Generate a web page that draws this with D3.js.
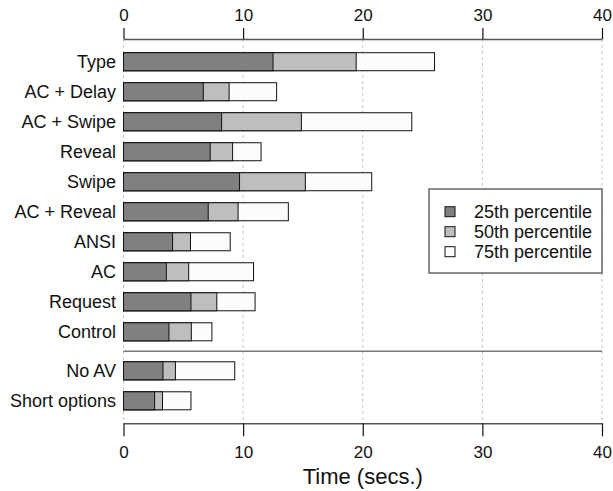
<!DOCTYPE html>
<html>
<head>
<meta charset="utf-8">
<script src="https://cdn.jsdelivr.net/npm/d3@7"></script>
<style>
  html, body { margin: 0; padding: 0; background: #fff; }
  svg { display: block; font-family: "Liberation Sans", Arial, Helvetica, sans-serif; }
</style>
</head>
<body>
<svg id="chart" width="613" height="491"></svg>
<script>
// ---- data ----
const mainCategories = ["Type", "AC + Delay", "AC + Swipe", "Reveal", "Swipe", "AC + Reveal", "ANSI", "AC", "Request", "Control"];
const extraCategories = ["No AV", "Short options"];
const categories = mainCategories.concat(extraCategories);
const p25 = [12.5, 6.67, 8.2, 7.25, 9.7, 7.08, 4.1, 3.58, 5.64, 3.8, 3.3, 2.6];
const p50 = [19.45, 8.83, 14.87, 9.12, 15.2, 9.58, 5.6, 5.45, 7.8, 5.67, 4.34, 3.26];
const p75 = [26.0, 12.8, 24.1, 11.5, 20.75, 13.78, 8.92, 10.87, 11.0, 7.39, 9.3, 5.64];
const seriesNames = ["25th percentile", "50th percentile", "75th percentile"];
const xTicks = [0, 10, 20, 30, 40];
const xTitle = "Time (secs.)";

// ---- layout ----
const svg = d3.select("#chart");
const colors = ["#808080", "#bebebe", "#fcfcfc"];
const groupGap = 0.3;
// slot position for each category (extra group separated by a gap)
const slot = categories.map((c, i) => i < mainCategories.length ? i : i + groupGap);
const sepPos = mainCategories.length - 1 + (1 + groupGap) / 2;

const x = d3.scaleLinear().domain([0, 40]).range([123.5, 602]);
const y = d3.scaleLinear().domain([-0.757, 12.05]).range([39, 423.3]);
const barH = y(0.6) - y(0);

// grid lines
svg.append("g").selectAll("line").data(xTicks).join("line")
  .attr("x1", d => x(d)).attr("x2", d => x(d))
  .attr("y1", y.range()[0]).attr("y2", y.range()[1])
  .attr("stroke", "#c4c4c4").attr("stroke-width", 1)
  .attr("stroke-dasharray", "3,3");

// separator
svg.append("line")
  .attr("x1", x(0)).attr("x2", x(40))
  .attr("y1", y(sepPos)).attr("y2", y(sepPos))
  .attr("stroke", "#7a7a7a").attr("stroke-width", 1.5);

// bars (drawn back to front: 75th, 50th, 25th)
const seriesVals = [p25, p50, p75];
const barsG = svg.append("g");
[2, 1, 0].forEach(s => {
  barsG.append("g").selectAll("rect").data(categories).join("rect")
    .attr("x", x(0))
    .attr("y", (d, i) => y(slot[i]) - barH / 2)
    .attr("width", (d, i) => x(seriesVals[s][i]) - x(0))
    .attr("height", barH)
    .attr("fill", colors[s])
    .attr("stroke", "#111")
    .attr("stroke-width", 1);
});

// category labels
svg.append("g").selectAll("text").data(categories).join("text")
  .attr("x", 116)
  .attr("y", (d, i) => y(slot[i]))
  .attr("dy", "0.35em")
  .attr("text-anchor", "end")
  .attr("font-size", 18)
  .attr("fill", "#111")
  .text(d => d);

// axes
const topAxis = d3.axisTop(x).tickValues(xTicks).tickSize(11).tickSizeOuter(0).tickPadding(7);
const botAxis = d3.axisBottom(x).tickValues(xTicks).tickSize(13).tickSizeOuter(0).tickPadding(10);
const gTop = svg.append("g").attr("transform", `translate(0,${y.range()[0]})`).call(topAxis);
const gBot = svg.append("g").attr("transform", `translate(0,${y.range()[1]})`).call(botAxis);
[gTop, gBot].forEach(g => {
  g.select(".domain").attr("stroke", "#555").attr("stroke-width", 1.5);
  g.selectAll(".tick line").attr("stroke", "#111").attr("stroke-width", 1.2);
  g.selectAll(".tick text").attr("font-size", 17).attr("fill", "#111")
    .attr("font-family", "Liberation Sans, Arial, sans-serif");
});

// axis title
svg.append("text")
  .attr("x", x(20)).attr("y", 484)
  .attr("text-anchor", "middle")
  .attr("font-size", 22).attr("fill", "#111")
  .text(xTitle);

// legend
const lg = svg.append("g");
lg.append("rect").attr("x", 429).attr("y", 189).attr("width", 173).attr("height", 84)
  .attr("fill", "#fff").attr("stroke", "#666").attr("stroke-width", 1.5);
const li = lg.selectAll("g.item").data(seriesNames).join("g").attr("class", "item")
  .attr("transform", (d, i) => `translate(0,${211.7 + i * 20})`);
li.append("rect").attr("x", 445).attr("y", -5).attr("width", 10).attr("height", 10)
  .attr("fill", (d, i) => colors[i]).attr("stroke", "#111").attr("stroke-width", 1);
li.append("text").attr("x", 474).attr("dy", "0.35em").attr("font-size", 18).attr("fill", "#111")
  .text(d => d);
</script>
</body>
</html>
